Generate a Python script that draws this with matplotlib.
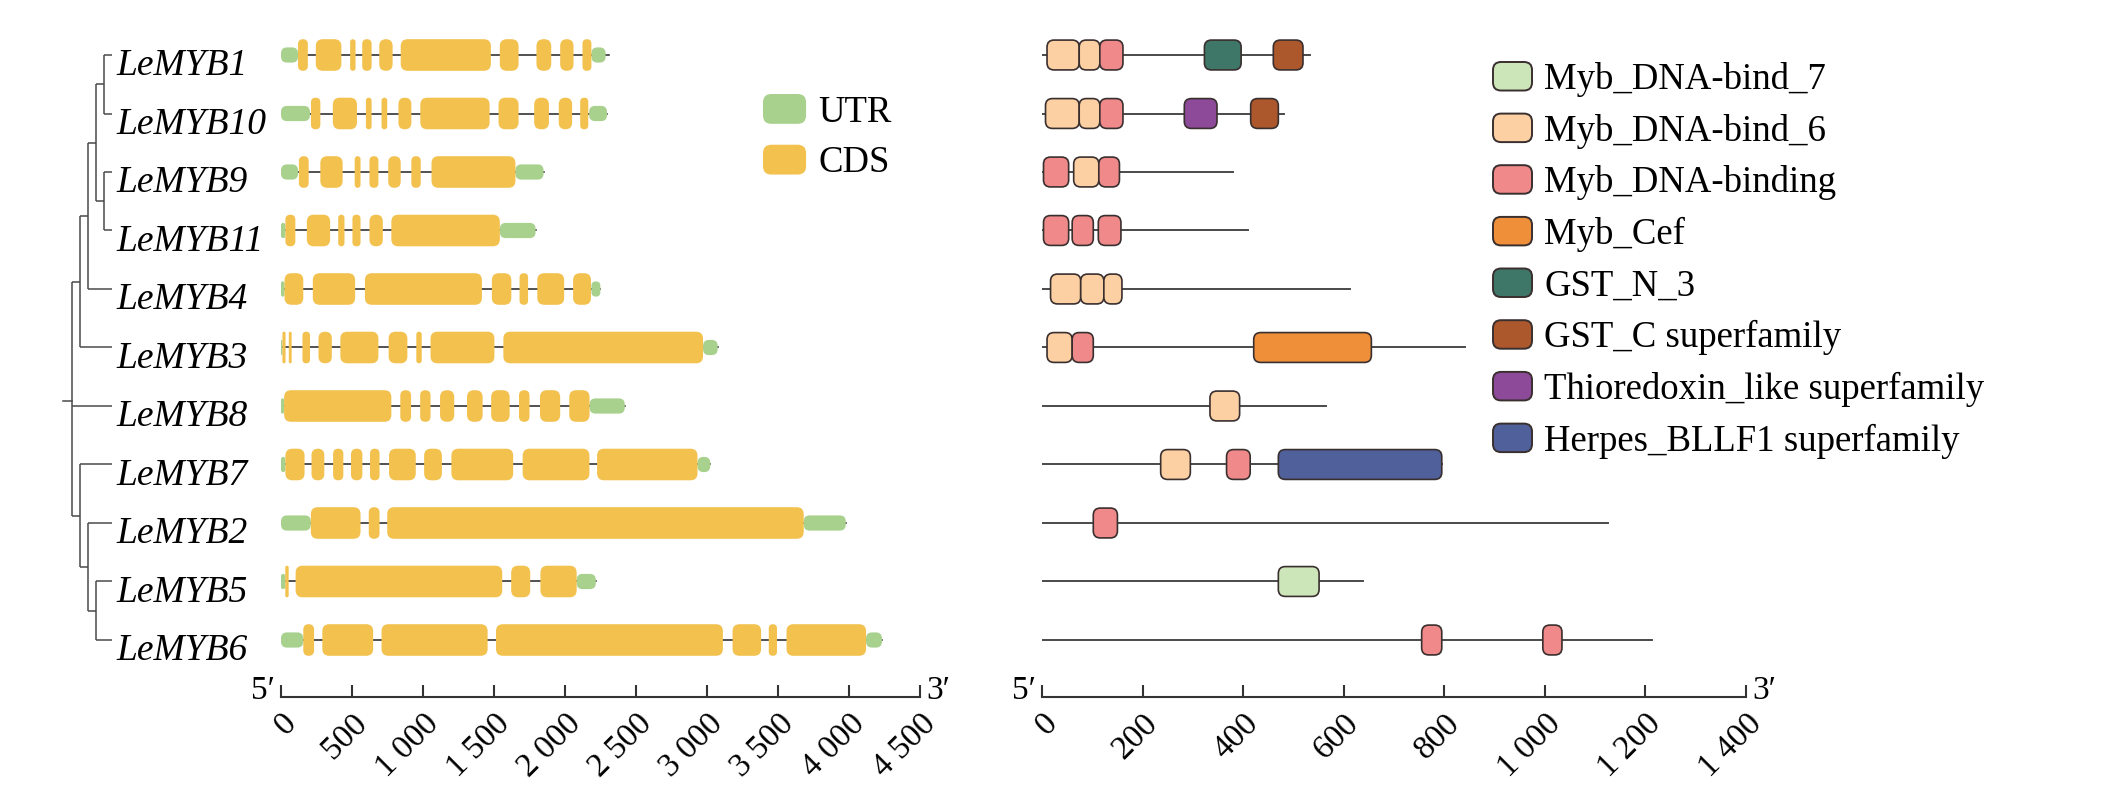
import matplotlib
matplotlib.use('Agg')
import matplotlib.pyplot as plt
from matplotlib.patches import FancyBboxPatch, Patch
from matplotlib.legend_handler import HandlerPatch

plt.rcParams['font.family'] = ['Liberation Serif', 'DejaVu Serif']

# ---- 数据 ----
genes = ['LeMYB1', 'LeMYB10', 'LeMYB9', 'LeMYB11', 'LeMYB4', 'LeMYB3',
         'LeMYB8', 'LeMYB7', 'LeMYB2', 'LeMYB5', 'LeMYB6']

# 进化树 (cladogram)
tree = ((((('LeMYB1', 'LeMYB10'), ('LeMYB9', 'LeMYB11')), 'LeMYB4'), 'LeMYB3'),
        'LeMYB8',
        ('LeMYB7', ('LeMYB2', ('LeMYB5', 'LeMYB6'))))

# 基因结构 (bp)
gene_len = [2312, 2296, 1849, 1793, 2249, 3075, 2421, 3023, 3977, 2217, 4232]
utr = [
    [(0, 120), (2186, 2286)],
    [(0, 204), (2170, 2296)],
    [(0, 120), (1651, 1849)],
    [(0, 31), (1541, 1793)],
    [(0, 25), (2186, 2249)],
    [(0, 10), (2972, 3075)],
    [(0, 22), (2173, 2421)],
    [(0, 31), (2933, 3023)],
    [(0, 210), (3681, 3977)],
    [(0, 30), (2082, 2217)],
    [(0, 157), (4120, 4232)],
]
cds = [
    [(120, 189), (245, 425), (487, 525), (572, 638), (692, 786), (843, 1478),
     (1541, 1673), (1799, 1903), (1966, 2060), (2123, 2186)],
    [(211, 277), (365, 535), (598, 638), (708, 748), (827, 918), (981, 1469),
     (1532, 1673), (1783, 1887), (1956, 2050), (2107, 2164)],
    [(126, 195), (277, 434), (519, 560), (623, 686), (755, 843), (918, 984), (1060, 1651)],
    [(31, 101), (182, 346), (403, 447), (503, 560), (623, 717), (777, 1541)],
    [(25, 157), (224, 522), (591, 1415), (1485, 1622), (1680, 1740), (1805, 1994), (2057, 2183)],
    [(10, 32), (55, 75), (151, 204), (264, 358), (418, 686), (758, 890), (953, 991),
     (1053, 1503), (1566, 2972)],
    [(22, 777), (840, 916), (980, 1053), (1120, 1220), (1310, 1420), (1480, 1610),
     (1676, 1750), (1824, 1966), (2030, 2173)],
    [(31, 166), (215, 305), (367, 439), (493, 573), (627, 694), (761, 949), (1008, 1133),
     (1200, 1635), (1702, 2172), (2226, 2933)],
    [(210, 560), (618, 694), (748, 3681)],
    [(30, 54), (103, 1558), (1621, 1755), (1827, 2082)],
    [(157, 233), (291, 649), (708, 1455), (1514, 3112), (3180, 3381), (3435, 3493), (3560, 4120)],
]
gene_ticks = [0, 500, 1000, 1500, 2000, 2500, 3000, 3500, 4000, 4500]

# 保守结构域 (aa)
prot_len = [533, 481, 379, 410, 613, 842, 564, 795, 1125, 638, 1213]
domains = [
    [('Myb_DNA-bind_6', 10, 74), ('Myb_DNA-bind_6', 74, 115), ('Myb_DNA-binding', 115, 161),
     ('GST_N_3', 323, 396), ('GST_C superfamily', 460, 519)],
    [('Myb_DNA-bind_6', 7, 74), ('Myb_DNA-bind_6', 74, 115), ('Myb_DNA-binding', 115, 161),
     ('Thioredoxin_like superfamily', 283, 348), ('GST_C superfamily', 415, 470)],
    [('Myb_DNA-binding', 3, 53), ('Myb_DNA-bind_6', 63, 113), ('Myb_DNA-binding', 113, 154)],
    [('Myb_DNA-binding', 3, 53), ('Myb_DNA-binding', 60, 102), ('Myb_DNA-binding', 112, 157)],
    [('Myb_DNA-bind_6', 17, 77), ('Myb_DNA-bind_6', 77, 123), ('Myb_DNA-bind_6', 123, 159)],
    [('Myb_DNA-bind_6', 10, 60), ('Myb_DNA-binding', 60, 102), ('Myb_Cef', 421, 655)],
    [('Myb_DNA-bind_6', 334, 393)],
    [('Myb_DNA-bind_6', 236, 295), ('Myb_DNA-binding', 367, 414),
     ('Herpes_BLLF1 superfamily', 470, 795)],
    [('Myb_DNA-binding', 102, 150)],
    [('Myb_DNA-bind_7', 470, 551)],
    [('Myb_DNA-binding', 755, 795), ('Myb_DNA-binding', 996, 1034)],
]
domain_names = ['Myb_DNA-bind_7', 'Myb_DNA-bind_6', 'Myb_DNA-binding', 'Myb_Cef',
                'GST_N_3', 'GST_C superfamily', 'Thioredoxin_like superfamily',
                'Herpes_BLLF1 superfamily']
domain_colors = ['#cde6b9', '#fcd0a3', '#f08a8a', '#ef8f3a',
                 '#3e7767', '#ad572d', '#8c4a99', '#50609a']
prot_ticks = [0, 200, 400, 600, 800, 1000, 1200, 1400]

UTR_COLOR = '#a9d18e'
CDS_COLOR = '#f2c14e'
EDGE = '#3a2f2f'

# ---- 布局 (像素) ----
W, H = 2105, 810
AXIS_Y = 697
ROW0, ROW_H = 55, 58.5
Y_TOP = -ROW0 / ROW_H
Y_BOT = (AXIS_Y - ROW0) / ROW_H

fig = plt.figure(figsize=(W / 100, H / 100), dpi=100)


def px_axes(x0, x1):
    ax = fig.add_axes([x0 / W, (H - AXIS_Y) / H, (x1 - x0) / W, AXIS_Y / H])
    ax.set_ylim(Y_BOT, Y_TOP)
    return ax


def px_scale(ax):
    p0 = ax.transData.transform((0, 0))
    p1 = ax.transData.transform((1, 1))
    return p1[0] - p0[0], abs(p1[1] - p0[1])


def rbox(ax, x0, x1, yc, h, r_px, **kw):
    sx, sy = px_scale(ax)
    w = x1 - x0
    r = max(min(r_px, w * sx / 2, h * sy / 2), 0.01)
    ax.add_patch(FancyBboxPatch((x0, yc - h / 2), w, h,
                                boxstyle='round,pad=0,rounding_size=%f' % (r / sx),
                                mutation_aspect=sx / sy, **kw))


def style_axis(ax, ticks, xmax):
    ax.set_xlim(0, xmax)
    for s in ['top', 'left', 'right']:
        ax.spines[s].set_visible(False)
    ax.spines['bottom'].set_linewidth(1.5)
    ax.spines['bottom'].set_color('#333333')
    ax.set_yticks([])
    labels = [f'{t:,}'.replace(',', ' ') for t in ticks]
    ax.set_xticks(ticks, labels=labels)
    ax.tick_params(axis='x', direction='in', length=9, width=1.5, color='#333333',
                   pad=8, labelsize=24)
    for lab in ax.get_xticklabels():
        lab.set_rotation(45)
        lab.set_ha('right')
        lab.set_va('top')
        lab.set_rotation_mode('anchor')
    ax.annotate('5\u2032', xy=(0, 0), xycoords=('data', 'axes fraction'),
                xytext=(-6, 6), textcoords='offset pixels', ha='right', va='center',
                fontsize=24)
    ax.annotate('3\u2032', xy=(xmax, 0), xycoords=('data', 'axes fraction'),
                xytext=(6, 6), textcoords='offset pixels', ha='left', va='center',
                fontsize=24)
    ax.patch.set_alpha(0)


# ---- 进化树 ----
ax_t = px_axes(56, 112)
ax_t.set_xlim(-2, 5)
ax_t.axis('off')
LEAF = 5


def draw_clade(node, x):
    if isinstance(node, str):
        return genes.index(node)
    ys = []
    for ch in node:
        cx = LEAF if isinstance(ch, str) else x + 1
        cy = draw_clade(ch, cx)
        ax_t.plot([x, cx], [cy, cy], color='#4a4a4a', lw=1.1, solid_capstyle='butt')
        ys.append(cy)
    ax_t.plot([x, x], [min(ys), max(ys)], color='#4a4a4a', lw=1.1, solid_capstyle='butt')
    return sum(ys) / len(ys)


root_y = draw_clade(tree, 0)
ax_t.plot([-1.1, 0], [root_y, root_y], color='#4a4a4a', lw=1.1)
for i, g in enumerate(genes):
    ax_t.annotate(g, xy=(LEAF, i), xytext=(4, -11), textcoords='offset pixels',
                  ha='left', va='center', fontsize=27, style='italic',
                  annotation_clip=False)

# ---- 基因结构 ----
ax_g = px_axes(281, 920)
style_axis(ax_g, gene_ticks, 4500)
for i in range(len(genes)):
    ax_g.plot([0, gene_len[i]], [i, i], color='#222222', lw=1.1, zorder=1)
    for a, b in utr[i]:
        rbox(ax_g, a, b, i, 0.26, 6, facecolor=UTR_COLOR, lw=0, zorder=2)
    for a, b in cds[i]:
        rbox(ax_g, a, b, i, 0.54, 7, facecolor=CDS_COLOR, lw=0, zorder=3)

# ---- 结构域 ----
ax_p = px_axes(1042, 1746)
style_axis(ax_p, prot_ticks, 1400)
for i in range(len(genes)):
    ax_p.plot([0, prot_len[i]], [i, i], color='#4a4a4a', lw=1.4, zorder=1)
    for name, a, b in domains[i]:
        c = domain_colors[domain_names.index(name)]
        rbox(ax_p, a, b, i, 0.51, 7, facecolor=c, edgecolor=EDGE, lw=1.2, zorder=3)


# ---- 图例 ----
class RoundHandler(HandlerPatch):
    def create_artists(self, legend, orig_handle, xdescent, ydescent,
                       width, height, fontsize, trans):
        p = FancyBboxPatch((-xdescent, -ydescent), width, height,
                           boxstyle='round,pad=0,rounding_size=%f' % (height * 0.28),
                           facecolor=orig_handle.get_facecolor(),
                           edgecolor=orig_handle.get_edgecolor(),
                           linewidth=orig_handle.get_linewidth(), transform=trans)
        return [p]


gene_handles = [Patch(facecolor=UTR_COLOR, edgecolor='none', lw=0),
                Patch(facecolor=CDS_COLOR, edgecolor='none', lw=0)]
fig.legend(gene_handles, ['UTR', 'CDS'], loc='upper left',
           bbox_to_anchor=(763 / W, 1 - 94 / H), frameon=False, borderpad=0,
           borderaxespad=0, handlelength=1.17, handleheight=0.87, handletextpad=0.33,
           labelspacing=0.41, fontsize=26.5, handler_map={Patch: RoundHandler()})

dom_handles = [Patch(facecolor=c, edgecolor=EDGE, lw=1.4) for c in domain_colors]
fig.legend(dom_handles, domain_names, loc='upper left',
           bbox_to_anchor=(1493 / W, 1 - 62 / H), frameon=False, borderpad=0,
           borderaxespad=0, handlelength=1.06, handleheight=0.815, handletextpad=0.33,
           labelspacing=0.45, fontsize=26.5, handler_map={Patch: RoundHandler()})

fig.savefig('out.png', dpi=100)
